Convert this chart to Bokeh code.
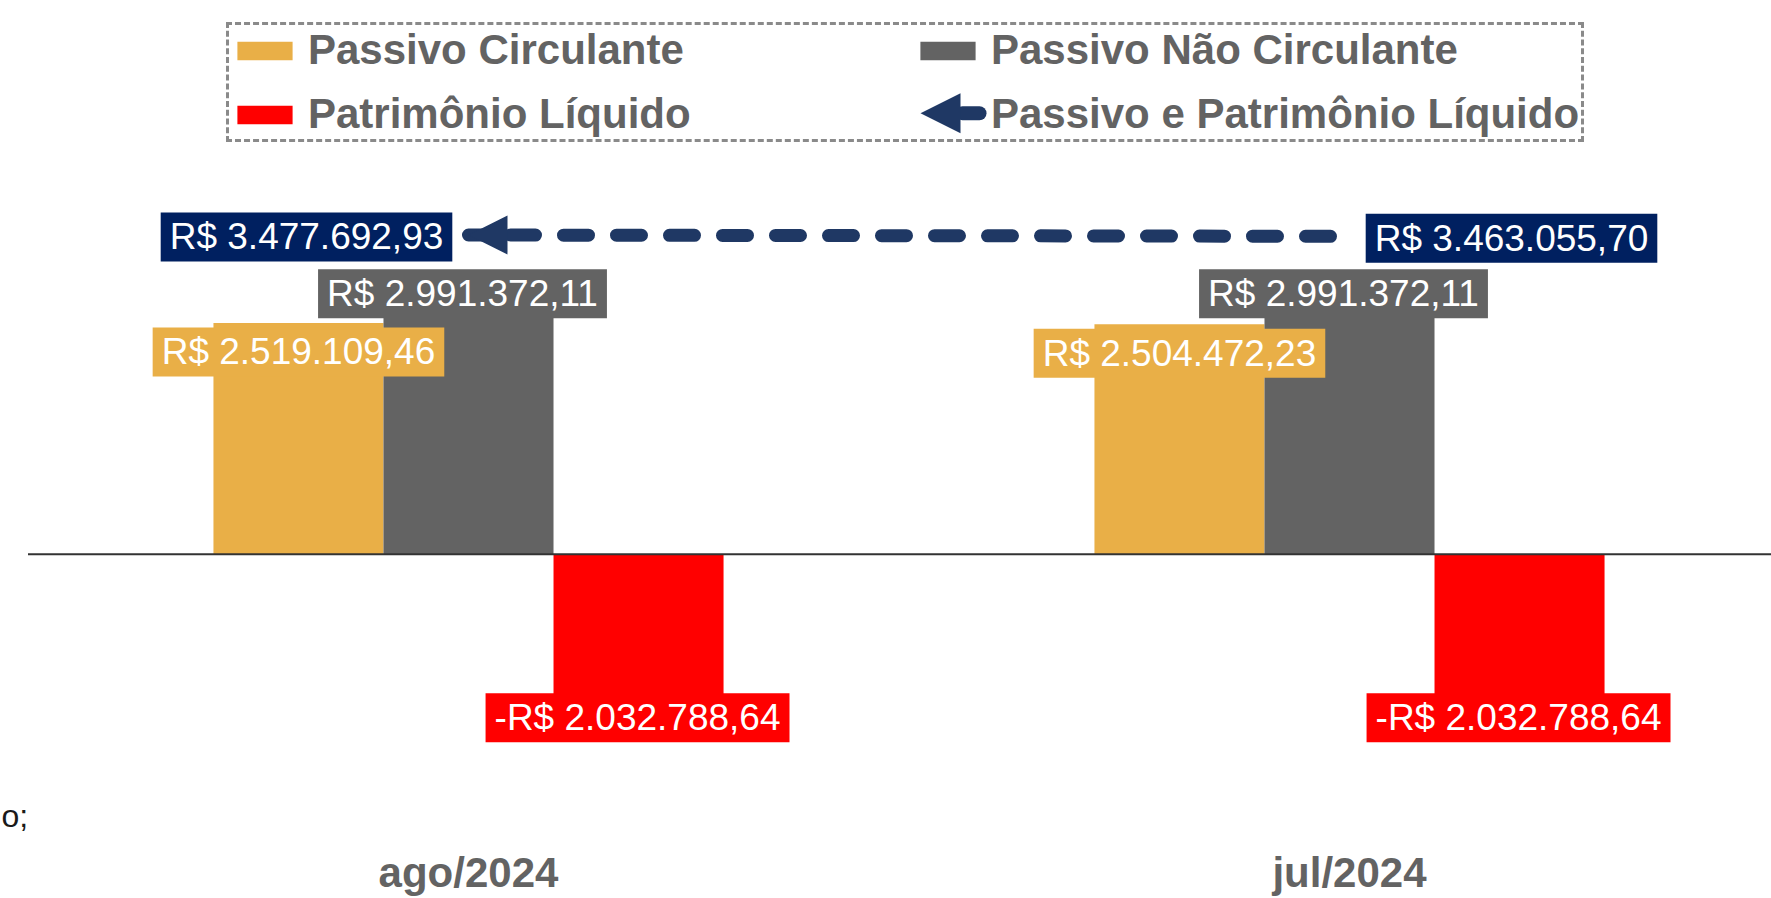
from bokeh.plotting import figure
from bokeh.models import (ColumnDataSource, Range1d, FixedTicker, Legend, LegendItem,
                          Arrow, NormalHead, Label)
from bokeh.core.properties import value
from bokeh.transform import dodge
from bokeh.embed import file_html
from bokeh.resources import INLINE

# ---------------- data ----------------
categories = ["ago/2024", "jul/2024"]
passivo_circulante = [2519109.46, 2504472.23]
passivo_nao_circulante = [2991372.11, 2991372.11]
patrimonio_liquido = [-2032788.64, -2032788.64]
passivo_e_pl = [3477692.93, 3463055.70]
series_names = ["Passivo Circulante", "Passivo Não Circulante",
                "Patrimônio Líquido", "Passivo e Patrimônio Líquido"]

# ---------------- style ----------------
C_PC = "#E9AF47"
C_PNC = "#636363"
C_PL = "#FF0000"
C_TOT_BG = "#002060"
C_LINE = "#1F3864"
C_TEXT = "#636363"
FONT = "Liberation Sans"

W, H = 1771, 898
FRAME_BOTTOM = 850          # canvas y of the frame bottom (axis below)
BASE_Y = 555                # canvas y of the zero line
PX_PER_UNIT = 92 / 1e6
X0_PX, CAT_PX = 468, 881    # canvas x of first category centre, px per category
BAR_W = 0.193


def brl(v):
    s = f"{abs(v):,.2f}".replace(",", "X").replace(".", ",").replace("X", ".")
    return ("-R$ " if v < 0 else "R$ ") + s


def px_to_x(px):
    return (px - X0_PX) / CAT_PX


def px_to_y(py):
    return (BASE_Y - py) / PX_PER_UNIT


xi = list(range(len(categories)))
src = ColumnDataSource(dict(xi=xi, cat=categories, pc=passivo_circulante,
                            pnc=passivo_nao_circulante, pl=patrimonio_liquido,
                            tot=passivo_e_pl))

p = figure(width=W, height=H, output_backend="svg", toolbar_location=None,
           x_range=Range1d(px_to_x(0), px_to_x(W)),
           y_range=Range1d(px_to_y(FRAME_BOTTOM), px_to_y(0)),
           y_axis_location=None, min_border=0, outline_line_color=None)
p.xgrid.visible = False
p.ygrid.visible = False
p.background_fill_color = "white"
p.border_fill_color = "white"

r_pc = p.vbar(x=dodge("xi", -BAR_W), top="pc", bottom=0, width=BAR_W, source=src,
              fill_color=C_PC, line_color=None)
r_pnc = p.vbar(x="xi", top="pnc", bottom=0, width=BAR_W, source=src,
               fill_color=C_PNC, line_color=None)
r_pl = p.vbar(x=dodge("xi", BAR_W), top="pl", bottom=0, width=BAR_W, source=src,
              fill_color=C_PL, line_color=None)

# zero line across the category span
p.segment(x0=[-0.5], x1=[len(categories) - 0.5], y0=[0], y1=[0],
          line_color="#333333", line_width=2)

# total line with arrow head at the first category
r_line = p.line(x="xi", y="tot", source=src, line_color=C_LINE, line_width=13,
                line_dash="25 28", line_dash_offset=11, line_cap="round")
head_src = ColumnDataSource(dict(xs=[xi[1]], ys=[passivo_e_pl[1]],
                                 xe=[xi[0]], ye=[passivo_e_pl[0]]))
p.add_layout(Arrow(end=NormalHead(size=39, fill_color=C_LINE, line_color=C_LINE, line_width=0),
                   x_start="xs", y_start="ys", x_end="xe", y_end="ye",
                   source=head_src, line_alpha=0))

# data labels
lx, ly, lt, lbg, ldx, ldy = [], [], [], [], [], []
for i in xi:
    for off, vals, bg, dx, dy in [(-BAR_W, passivo_circulante, C_PC, 0, 29),
                                  (0, passivo_nao_circulante, C_PNC, -6, 14),
                                  (BAR_W, patrimonio_liquido, C_PL, -1, -23)]:
        lx.append(i + off); ly.append(vals[i]); lt.append(brl(vals[i]))
        lbg.append(bg); ldx.append(dx); ldy.append(dy)
    lx.append(i); ly.append(passivo_e_pl[i]); lt.append(brl(passivo_e_pl[i]))
    lbg.append(C_TOT_BG); ldx.append(-162 if i == 0 else 162); ldy.append(2)
lsrc = ColumnDataSource(dict(x=lx, y=ly, text=lt, bg=lbg, dx=ldx, dy=ldy))
p.text(x="x", y="y", text="text", source=lsrc, x_offset="dx", y_offset="dy",
       text_align="center", text_baseline="middle", text_color="white",
       text_font=value(FONT), text_font_size="37px",
       background_fill_color="bg", padding=(9, 4))

# x axis with category labels
p.xaxis.ticker = FixedTicker(ticks=xi)
p.xaxis.major_label_overrides = {i: c for i, c in zip(xi, categories)}
p.xaxis.axis_line_color = None
p.xaxis.major_tick_line_color = None
p.xaxis.minor_tick_line_color = None
p.xaxis.major_tick_out = 0
p.xaxis.major_tick_in = 0
p.xaxis.major_label_standoff = 0
p.xaxis.major_label_text_font = FONT
p.xaxis.major_label_text_font_style = "bold"
p.xaxis.major_label_text_font_size = "42px"
p.xaxis.major_label_text_color = C_TEXT

# legend
r_icon = p.line(x="xi", y="tot", source=src, line_alpha=0)
legend = Legend(items=[LegendItem(label=series_names[0], renderers=[r_pc]),
                       LegendItem(label=series_names[1], renderers=[r_pnc]),
                       LegendItem(label=series_names[2], renderers=[r_pl]),
                       LegendItem(label=series_names[3], renderers=[r_icon])],
                location=(226, FRAME_BOTTOM - 144), orientation="horizontal", ncols=2,
                glyph_width=69, glyph_height=23, label_standoff=9, label_width=589,
                spacing=16, padding=1, margin=0,
                label_text_font=FONT, label_text_font_style="bold",
                label_text_font_size="42px", label_text_color=C_TEXT,
                border_line_color="#8A8A8A", border_line_alpha=1.0,
                border_line_width=3, border_line_dash="10 5",
                background_fill_color=None)
p.add_layout(legend)

# legend icon for the arrow series (placed over the legend's empty glyph slot)
p.segment(x0=[px_to_x(962)], x1=[px_to_x(979)], y0=[px_to_y(113)], y1=[px_to_y(113)],
          line_color=C_LINE, line_width=14, line_cap="round", level="overlay")
icon_src = ColumnDataSource(dict(xs=[px_to_x(985)], xe=[px_to_x(920)], y=[px_to_y(113)]))
p.add_layout(Arrow(end=NormalHead(size=40, fill_color=C_LINE, line_color=C_LINE, line_width=0),
                   x_start="xs", y_start="y", x_end="xe", y_end="y", source=icon_src,
                   level="overlay", line_alpha=0))

p.add_layout(Label(x=1, y=FRAME_BOTTOM - 817, x_units="screen", y_units="screen",
                   text="o;", text_font=FONT, text_font_size="32px",
                   text_color="#1A1A1A", text_baseline="alphabetic"))

open("out.html", "w").write(file_html(p, INLINE))
